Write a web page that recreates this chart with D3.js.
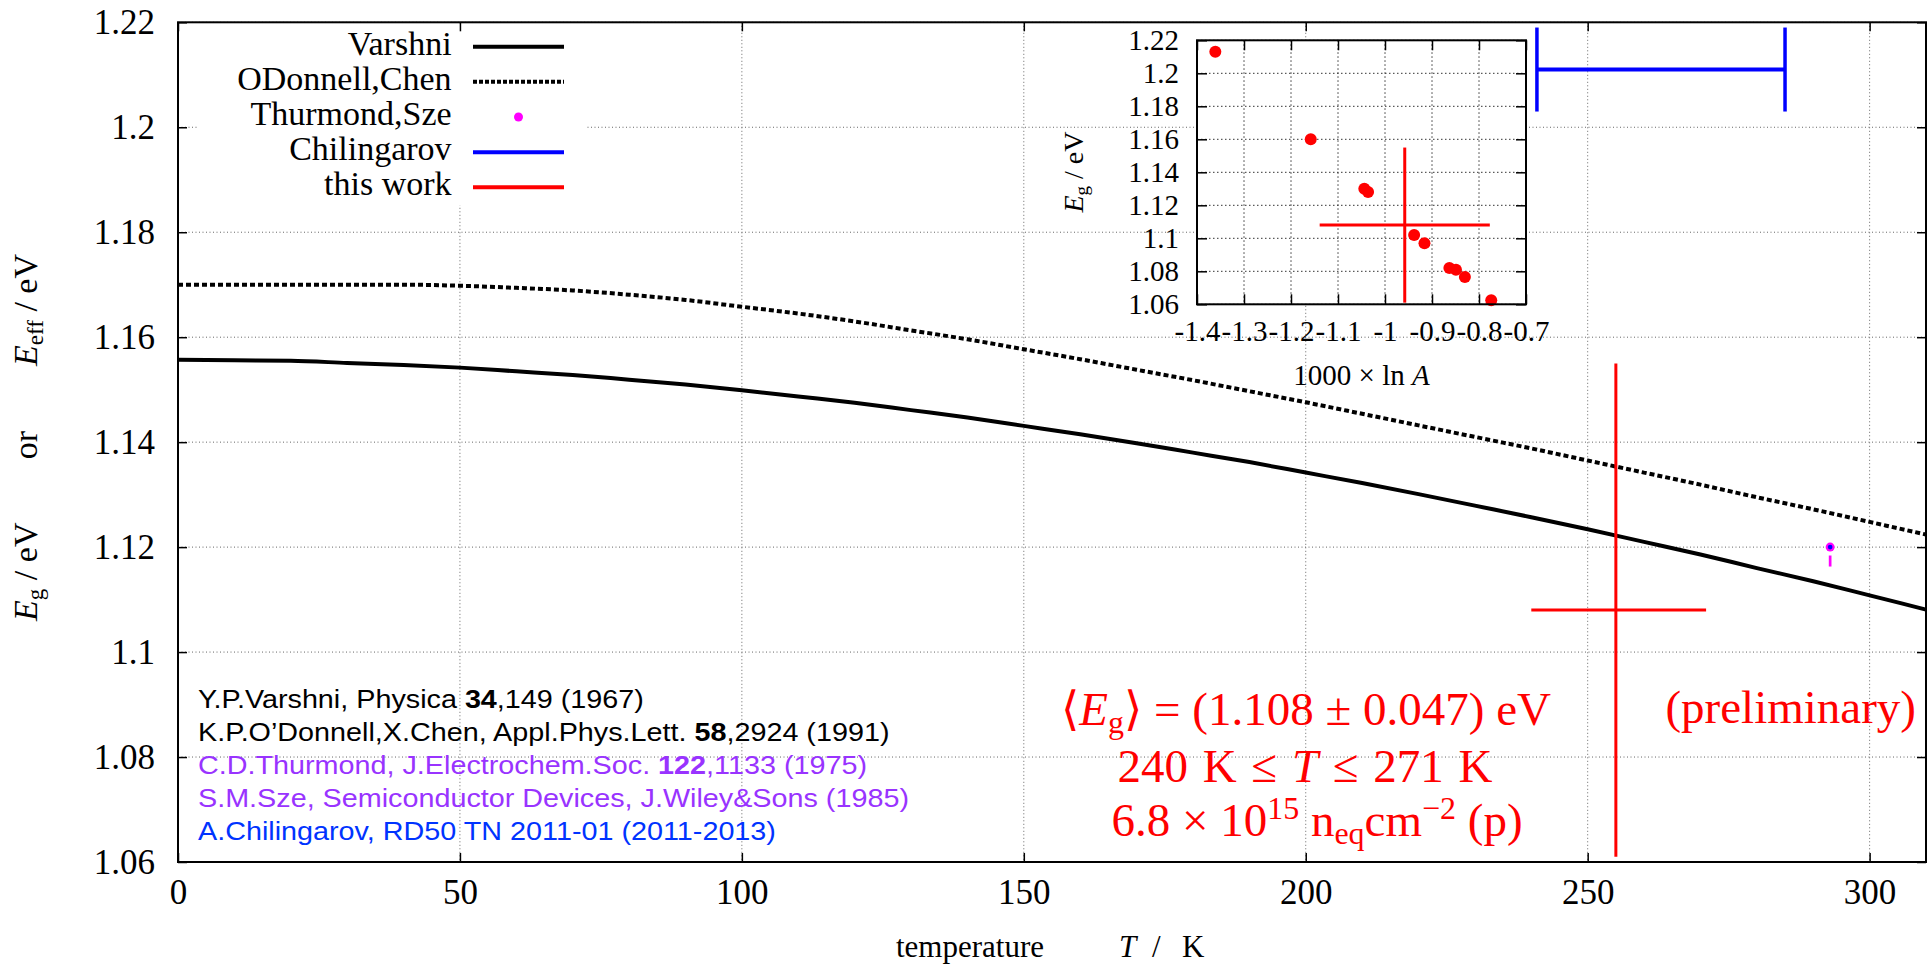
<!DOCTYPE html>
<html>
<head>
<meta charset="utf-8">
<script src="https://cdn.jsdelivr.net/npm/d3@7"></script>
<style>
  body { margin: 0; background: #fff; }
  svg { display: block; }
  text { white-space: pre; }
</style>
</head>
<body>
<svg id="chart" width="1932" height="964"></svg>
<script>
// ---- data ----
const tempK = [0, 10, 20, 30, 40, 50, 60, 70, 80, 90, 100, 110, 120, 130, 140, 150,
  160, 170, 180, 190, 200, 210, 220, 230, 240, 250, 260, 270, 280, 290, 300, 310];
const varshniEg = [1.1557, 1.1556, 1.1555, 1.1551, 1.1547, 1.1542, 1.1535, 1.1528,
  1.1519, 1.1510, 1.1499, 1.1487, 1.1475, 1.1461, 1.1447, 1.1431, 1.1415, 1.1398,
  1.1380, 1.1362, 1.1342, 1.1322, 1.1301, 1.1279, 1.1257, 1.1234, 1.1210, 1.1186,
  1.1160, 1.1135, 1.1108, 1.1081];
const odonnellEg = [1.1700, 1.1700, 1.1700, 1.1700, 1.1700, 1.1698, 1.1694, 1.1689,
  1.1681, 1.1671, 1.1658, 1.1645, 1.1630, 1.1613, 1.1596, 1.1577, 1.1558, 1.1538,
  1.1518, 1.1497, 1.1476, 1.1454, 1.1432, 1.1410, 1.1388, 1.1365, 1.1342, 1.1319,
  1.1295, 1.1272, 1.1248, 1.1224];

const thurmondT = 293;
const thurmondEg = 1.12;
const thurmondBar = [1.1184, 1.1163];

const chilingarovT = [241, 285];
const chilingarovEg = 1.211;

const thisWorkT = 255;
const thisWorkTRange = [240, 271];
const thisWorkEg = 1.108;
const thisWorkEgRange = [1.061, 1.155];

// inset: Eg versus 1000 x ln A
const insetLnA = [-1.361, -1.158, -1.044, -1.036, -0.938, -0.916, -0.863, -0.849, -0.830, -0.774];
const insetEg = [1.213, 1.160, 1.130, 1.128, 1.102, 1.097, 1.082, 1.081, 1.0765, 1.0625];
const insetMeanLnA = -0.958;
const insetLnARange = [-1.139, -0.777];

const xTicks = [0, 50, 100, 150, 200, 250, 300];
const yTicks = [1.06, 1.08, 1.10, 1.12, 1.14, 1.16, 1.18, 1.20, 1.22];
const insetXTicks = [-1.4, -1.3, -1.2, -1.1, -1.0, -0.9, -0.8, -0.7];
const insetYTicks = [1.06, 1.08, 1.10, 1.12, 1.14, 1.16, 1.18, 1.20, 1.22];

const legendLabels = ["Varshni", "ODonnell,Chen", "Thurmond,Sze", "Chilingarov", "this work"];

// ---- setup ----
const SERIF = "'Liberation Serif', 'DejaVu Serif', serif";
const SANS = "'Liberation Sans', Arial, sans-serif";
const RED = "#ff0000", BLUE = "#0000ff", MAGENTA = "#ff00ff", PURPLE = "#9933ff", REFBLUE = "#0033ff";

const svg = d3.select("#chart");
const plot = { left: 178, right: 1926, top: 22.3, bottom: 862 };
const x = d3.scaleLinear().domain([0, 310]).range([plot.left, plot.right]);
const y = d3.scaleLinear().domain([1.06, 1.22]).range([plot.bottom, plot.top]);

const fmt = (d) => String(+d.toFixed(2));

// text with italic / sub / superscript parts
function rich(text, parts, size) {
  let off = 0;
  for (const p of parts) {
    const shift = p.sub ? size * 0.17 : p.sup ? -size * 0.36 : 0;
    const ts = text.append("tspan").text(p.t).attr("dy", shift - off);
    off = shift;
    if (p.sub || p.sup) ts.attr("font-size", size * 0.68);
    if (p.it) ts.attr("font-style", "italic");
    if (p.b) ts.attr("font-weight", "bold");
  }
  return text;
}

// ---- grid ----
const grid = svg.append("g").attr("stroke", "#666").attr("stroke-width", 1).attr("stroke-dasharray", "1,2.5");
grid.selectAll(".gx").data(xTicks).join("line")
  .attr("x1", (d) => x(d)).attr("x2", (d) => x(d))
  .attr("y1", plot.top).attr("y2", plot.bottom);
grid.selectAll(".gy").data(yTicks).join("line")
  .attr("y1", (d) => y(d)).attr("y2", (d) => y(d))
  .attr("x1", plot.left).attr("x2", plot.right);

// ---- curves ----
const line = d3.line().x((d, i) => x(tempK[i])).y((d) => y(d)).curve(d3.curveMonotoneX);
svg.append("path").attr("d", line(varshniEg))
  .attr("fill", "none").attr("stroke", "#000").attr("stroke-width", 4);
svg.append("path").attr("d", line(odonnellEg))
  .attr("fill", "none").attr("stroke", "#000").attr("stroke-width", 4)
  .attr("stroke-dasharray", "5,3");

// ---- legend ----
svg.append("rect").attr("x", 197).attr("y", plot.top + 2).attr("width", 388).attr("height", 181)
  .attr("fill", "#fff");
const leg = svg.append("g");
legendLabels.forEach((lab, i) => {
  const ly = 46.7 + 35.15 * i;
  leg.append("text").attr("x", 451.6).attr("y", ly + 8).attr("text-anchor", "end")
    .attr("font-family", SERIF).attr("font-size", 34).text(lab);
  if (i === 2) {
    leg.append("circle").attr("cx", 518.5).attr("cy", ly).attr("r", 4.5).attr("fill", MAGENTA);
  } else {
    leg.append("line").attr("x1", 473).attr("x2", 564).attr("y1", ly).attr("y2", ly)
      .attr("stroke", ["#000", "#000", null, BLUE, RED][i])
      .attr("stroke-width", 4)
      .attr("stroke-dasharray", i === 1 ? "4,2" : null);
  }
});

// ---- references ----
const refs = [
  [{ t: "Y.P.Varshni, Physica " }, { t: "34", b: true }, { t: ",149 (1967)" }],
  [{ t: "K.P.O’Donnell,X.Chen, Appl.Phys.Lett. " }, { t: "58", b: true }, { t: ",2924 (1991)" }],
  [{ t: "C.D.Thurmond, J.Electrochem.Soc. " }, { t: "122", b: true }, { t: ",1133 (1975)" }],
  [{ t: "S.M.Sze, Semiconductor Devices, J.Wiley&Sons (1985)" }],
  [{ t: "A.Chilingarov, RD50 TN 2011-01 (2011-2013)" }],
];
const refColors = ["#000", "#000", PURPLE, PURPLE, REFBLUE];
refs.forEach((parts, i) => {
  const t = svg.append("text").attr("transform", `translate(198,${708 + 33 * i}) scale(1.15,1)`)
    .attr("font-family", SANS).attr("font-size", 25).attr("fill", refColors[i]);
  rich(t, parts, 25);
});

// ---- red annotation ----
const ann = [
  { cx: 1306, by: 725, parts: [{ t: "⟨" }, { t: "E", it: true }, { t: "g", sub: true },
    { t: "⟩ = (1.108 ± 0.047) eV" }] },
  { cx: 1305, by: 782, parts: [{ t: "240 K ≤ " }, { t: "T", it: true }, { t: " ≤ 271 K" }] },
  { cx: 1317, by: 836, parts: [{ t: "6.8 × 10" }, { t: "15", sup: true }, { t: " n" },
    { t: "eq", sub: true }, { t: "cm" }, { t: "−2", sup: true }, { t: " (p)" }] },
];
ann.forEach((a, i) => {
  const t = svg.append("text").attr("x", a.cx).attr("y", a.by).attr("text-anchor", "middle")
    .attr("font-family", SERIF).attr("font-size", 47).attr("fill", RED)
    .attr("word-spacing", i === 1 ? 3 : 0);
  rich(t, a.parts, 47);
});
svg.append("text").attr("x", 1916).attr("y", 723).attr("text-anchor", "end")
  .attr("font-family", SERIF).attr("font-size", 47).attr("fill", RED).text("(preliminary)");

// ---- inset ----
const inset = { left: 1197, right: 1526, top: 40.3, bottom: 304.3 };
const ix = d3.scaleLinear().domain([-1.4, -0.7]).range([inset.left, inset.right]);
const iy = d3.scaleLinear().domain([1.06, 1.22]).range([inset.bottom, inset.top]);

svg.append("rect").attr("x", inset.left).attr("y", inset.top)
  .attr("width", inset.right - inset.left).attr("height", inset.bottom - inset.top).attr("fill", "#fff");
const igrid = svg.append("g").attr("stroke", "#333").attr("stroke-width", 1).attr("stroke-dasharray", "1.5,2.5");
igrid.selectAll(".gx").data(insetXTicks).join("line")
  .attr("x1", (d) => ix(d)).attr("x2", (d) => ix(d)).attr("y1", inset.top).attr("y2", inset.bottom);
igrid.selectAll(".gy").data(insetYTicks).join("line")
  .attr("y1", (d) => iy(d)).attr("y2", (d) => iy(d)).attr("x1", inset.left).attr("x2", inset.right);

svg.append("g").selectAll("circle").data(insetLnA).join("circle")
  .attr("cx", (d) => ix(d)).attr("cy", (d, i) => iy(insetEg[i])).attr("r", 6).attr("fill", RED);

svg.append("line").attr("x1", ix(insetMeanLnA)).attr("x2", ix(insetMeanLnA))
  .attr("y1", iy(thisWorkEgRange[0])).attr("y2", iy(thisWorkEgRange[1]))
  .attr("stroke", RED).attr("stroke-width", 3);
svg.append("line").attr("x1", ix(insetLnARange[0])).attr("x2", ix(insetLnARange[1]))
  .attr("y1", iy(thisWorkEg)).attr("y2", iy(thisWorkEg))
  .attr("stroke", RED).attr("stroke-width", 3);

function styleAxis(g, size) {
  g.select(".domain").remove();
  g.selectAll(".tick line").attr("stroke", "#000").attr("stroke-width", 1.5);
  g.selectAll(".tick text").attr("font-family", SERIF).attr("font-size", size).attr("fill", "#000");
}

svg.append("g").attr("transform", `translate(${inset.left},0)`)
  .call(d3.axisLeft(iy).tickValues(insetYTicks).tickSize(-10).tickPadding(18).tickFormat(fmt))
  .call(styleAxis, 29);
svg.append("g").attr("transform", `translate(${inset.right},0)`)
  .call(d3.axisRight(iy).tickValues(insetYTicks).tickSize(-10).tickFormat(""))
  .call(styleAxis, 29);
svg.append("g").attr("transform", `translate(0,${inset.bottom})`)
  .call(d3.axisBottom(ix).tickValues(insetXTicks).tickSize(-10).tickPadding(16).tickFormat(fmt))
  .call(styleAxis, 29);
svg.append("g").attr("transform", `translate(0,${inset.top})`)
  .call(d3.axisTop(ix).tickValues(insetXTicks).tickSize(-10).tickFormat(""))
  .call(styleAxis, 29);
svg.append("rect").attr("x", inset.left).attr("y", inset.top)
  .attr("width", inset.right - inset.left).attr("height", inset.bottom - inset.top)
  .attr("fill", "none").attr("stroke", "#000").attr("stroke-width", 2);

rich(svg.append("text").attr("x", (inset.left + inset.right) / 2).attr("y", 385)
  .attr("text-anchor", "middle").attr("font-family", SERIF).attr("font-size", 29),
  [{ t: "1000 × ln " }, { t: "A", it: true }], 29);
rich(svg.append("text").attr("transform", "translate(1083,172) rotate(-90)")
  .attr("text-anchor", "middle").attr("font-family", SERIF).attr("font-size", 28),
  [{ t: "E", it: true }, { t: "g", sub: true }, { t: " / eV" }], 28);

// ---- main data marks ----
// Chilingarov: horizontal bar with tall end caps
const capHalf = 42;
svg.append("line").attr("x1", x(chilingarovT[0])).attr("x2", x(chilingarovT[1]))
  .attr("y1", y(chilingarovEg)).attr("y2", y(chilingarovEg))
  .attr("stroke", BLUE).attr("stroke-width", 4);
svg.append("g").selectAll("line").data(chilingarovT).join("line")
  .attr("x1", (d) => x(d)).attr("x2", (d) => x(d))
  .attr("y1", y(chilingarovEg) - capHalf).attr("y2", y(chilingarovEg) + capHalf)
  .attr("stroke", BLUE).attr("stroke-width", 3.5);

// this work
svg.append("line").attr("x1", x(thisWorkT)).attr("x2", x(thisWorkT))
  .attr("y1", y(thisWorkEgRange[0])).attr("y2", y(thisWorkEgRange[1]))
  .attr("stroke", RED).attr("stroke-width", 3);
svg.append("line").attr("x1", x(thisWorkTRange[0])).attr("x2", x(thisWorkTRange[1]))
  .attr("y1", y(thisWorkEg)).attr("y2", y(thisWorkEg))
  .attr("stroke", RED).attr("stroke-width", 3);

// Thurmond, Sze
svg.append("line").attr("x1", x(thurmondT)).attr("x2", x(thurmondT))
  .attr("y1", y(thurmondBar[0])).attr("y2", y(thurmondBar[1]))
  .attr("stroke", MAGENTA).attr("stroke-width", 2.7);
svg.append("circle").attr("cx", x(thurmondT)).attr("cy", y(thurmondEg)).attr("r", 4.5).attr("fill", MAGENTA);
svg.append("circle").attr("cx", x(thurmondT)).attr("cy", y(thurmondEg)).attr("r", 2.3).attr("fill", BLUE);

// ---- main axes and frame ----
svg.append("g").attr("transform", `translate(${plot.left},0)`)
  .call(d3.axisLeft(y).tickValues(yTicks).tickSize(-9).tickPadding(23).tickFormat(fmt))
  .call(styleAxis, 35);
svg.append("g").attr("transform", `translate(${plot.right},0)`)
  .call(d3.axisRight(y).tickValues(yTicks).tickSize(-9).tickFormat(""))
  .call(styleAxis, 35);
svg.append("g").attr("transform", `translate(0,${plot.bottom})`)
  .call(d3.axisBottom(x).tickValues(xTicks).tickSize(-9).tickPadding(17).tickFormat(fmt))
  .call(styleAxis, 35);
svg.append("g").attr("transform", `translate(0,${plot.top})`)
  .call(d3.axisTop(x).tickValues(xTicks).tickSize(-9).tickFormat(""))
  .call(styleAxis, 35);
svg.append("rect").attr("x", plot.left).attr("y", plot.top)
  .attr("width", plot.right - plot.left).attr("height", plot.bottom - plot.top)
  .attr("fill", "none").attr("stroke", "#000").attr("stroke-width", 2);

// ---- axis titles ----
const xt = svg.append("text").attr("y", 957).attr("font-family", SERIF).attr("font-size", 31);
xt.append("tspan").attr("x", 896).text("temperature");
xt.append("tspan").attr("x", 1119).attr("font-style", "italic").text("T");
xt.append("tspan").attr("x", 1152).text("/");
xt.append("tspan").attr("x", 1182).text("K");

const yt = svg.append("g").attr("transform", "translate(37,0) rotate(-90)")
  .attr("font-family", SERIF).attr("font-size", 34);
rich(yt.append("text").attr("x", -621).attr("text-anchor", "start"),
  [{ t: "E", it: true }, { t: "g", sub: true }, { t: " / eV" }], 34);
yt.append("text").attr("x", -445).attr("text-anchor", "middle").text("or");
rich(yt.append("text").attr("x", -254).attr("text-anchor", "end"),
  [{ t: "E", it: true }, { t: "eff", sub: true }, { t: " / eV" }], 34);
</script>
</body>
</html>
